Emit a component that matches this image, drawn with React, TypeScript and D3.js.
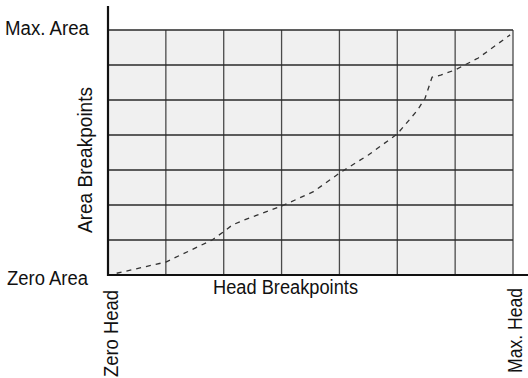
import React from "react";
import * as d3 from "d3";

const headValues = [0.15, 1.0, 1.8, 2.0, 2.15, 2.35, 3.0, 3.55, 4.0, 4.5, 5.0, 5.35, 5.48, 5.6, 5.75, 6.0, 6.4, 6.95];
const areaValues = [0.05, 0.37, 1.0, 1.24, 1.43, 1.57, 1.97, 2.38, 2.91, 3.43, 4.03, 4.71, 5.05, 5.65, 5.71, 5.86, 6.2, 6.86];
const gridSteps = [0, 1, 2, 3, 4, 5, 6, 7];
const yLabels = ["Zero Area", "Max. Area"];
const xLabels = ["Zero Head", "Max. Head"];
const xTitle = "Head Breakpoints";
const yTitle = "Area Breakpoints";

export default function App() {
  const W = 528, H = 378;
  const x = d3.scaleLinear().domain([0, 7]).range([108, 513]);
  const y = d3.scaleLinear().domain([0, 7]).range([275, 30]);
  const pts = headValues.map((h, i) => [h, areaValues[i]] as [number, number]);
  const line = d3.line<[number, number]>().x(d => x(d[0])).y(d => y(d[1]));
  const font = "'Liberation Sans', Arial, sans-serif";
  const fs = 20;
  return (
    <svg width={W} height={H} style={{ position: "absolute", left: 0, top: 0, background: "#fff" }}>
      <rect x={x(0)} y={y(7)} width={x(7) - x(0)} height={y(0) - y(7)} fill="#f0f0f0" />
      {gridSteps.map(s => (
        <line key={"v" + s} x1={x(s)} x2={x(s)} y1={y(0)} y2={y(7)} stroke="#4a4a4a" strokeWidth={1.3} />
      ))}
      {gridSteps.map(s => (
        <line key={"h" + s} x1={x(0)} x2={x(7)} y1={y(s)} y2={y(s)} stroke="#2a2a2a" strokeWidth={1.3} />
      ))}
      <path d={line(pts) || ""} fill="none" stroke="#333" strokeWidth={1.3} strokeDasharray="5,5" />
      <line x1={x(0)} x2={x(0)} y1={6} y2={y(0) + 1} stroke="#111" strokeWidth={2.2} />
      <line x1={x(0) - 1} x2={W} y1={y(0)} y2={y(0)} stroke="#111" strokeWidth={2.2} />
      <g fontFamily={font} fontSize={fs} fill="#111">
        <text x={5} y={y(7) + 5} textLength={84} lengthAdjust="spacingAndGlyphs">{yLabels[1]}</text>
        <text x={7} y={y(0) + 10} textLength={81} lengthAdjust="spacingAndGlyphs">{yLabels[0]}</text>
        <text x={213} y={294} textLength={145} lengthAdjust="spacingAndGlyphs">{xTitle}</text>
        <text transform="translate(91.5,233) rotate(-90)" textLength={146} lengthAdjust="spacingAndGlyphs">{yTitle}</text>
        <text transform={`translate(${x(0) + 10},377) rotate(-90)`} textLength={87} lengthAdjust="spacingAndGlyphs">{xLabels[0]}</text>
        <text transform={`translate(${x(7) + 9},373) rotate(-90)`} textLength={85} lengthAdjust="spacingAndGlyphs">{xLabels[1]}</text>
      </g>
    </svg>
  );
}
